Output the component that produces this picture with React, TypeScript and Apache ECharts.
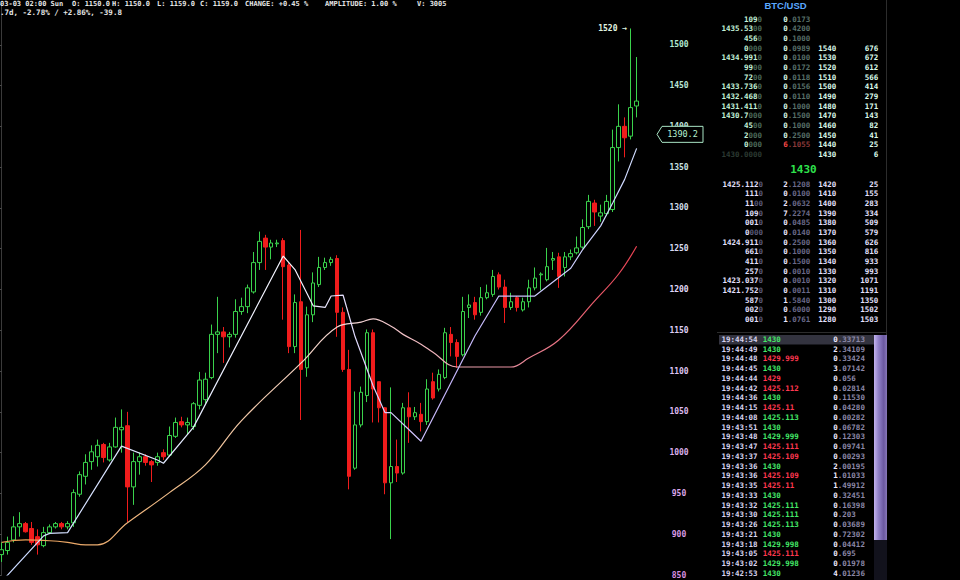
import React, { useEffect, useRef } from "react";
import * as echarts from "echarts";

// ---------- DATA ----------
// candles: [open, close, low, high]
const candles: number[][] = [
  [875, 881, 866, 890], [880, 890, 875, 897], [893, 909, 890, 922], [909, 913, 897, 927], [913, 903, 902, 915],
  [907, 890, 887, 915], [897, 887, 875, 906], [886, 902, 884, 909], [902, 909, 900, 912], [909, 913, 907, 915],
  [913, 909, 906, 915], [909, 913, 906, 916], [914, 951, 909, 955], [949, 973, 946, 977], [971, 988, 961, 998],
  [989, 1001, 979, 1009], [995, 1009, 983, 1016], [1010, 994, 988, 1012], [991, 1007, 989, 1012], [1007, 1031, 1006, 1043],
  [1028, 1031, 1000, 1053], [1033, 958, 915, 1050], [958, 989, 936, 1000], [989, 995, 973, 1000], [995, 988, 984, 998],
  [989, 985, 964, 991], [988, 995, 984, 1000], [1000, 995, 991, 1004], [997, 1021, 995, 1032], [1020, 1037, 1018, 1043],
  [1038, 1034, 1031, 1044], [1034, 1037, 1022, 1043], [1032, 1060, 1028, 1062], [1058, 1089, 1053, 1099], [1065, 1090, 1060, 1098],
  [1092, 1145, 1090, 1157], [1145, 1148, 1122, 1191], [1148, 1142, 1110, 1154], [1142, 1145, 1129, 1148], [1145, 1173, 1141, 1188],
  [1173, 1179, 1169, 1190], [1179, 1202, 1171, 1206], [1197, 1233, 1195, 1246], [1233, 1259, 1224, 1271], [1263, 1252, 1224, 1267],
  [1252, 1257, 1237, 1261], [1256, 1257, 1252, 1261], [1260, 1228, 1163, 1263], [1230, 1130, 1122, 1233], [1130, 1184, 1122, 1194],
  [1185, 1102, 1040, 1273], [1104, 1169, 1093, 1179], [1169, 1208, 1160, 1221], [1206, 1227, 1203, 1240], [1227, 1233, 1224, 1239],
  [1233, 1237, 1229, 1240], [1238, 1172, 1142, 1242], [1172, 1102, 1099, 1178], [1102, 971, 955, 1126], [981, 1034, 979, 1075],
  [1034, 1074, 1031, 1081], [1070, 1147, 1062, 1151], [1147, 1078, 1037, 1151], [1087, 1055, 1037, 1087], [1055, 963, 949, 1056],
  [963, 983, 894, 1080], [983, 975, 964, 1016], [975, 1055, 973, 1061], [1055, 1044, 1012, 1074], [1044, 1049, 1040, 1056],
  [1047, 1038, 1026, 1061], [1038, 1078, 1034, 1090], [1087, 1067, 1065, 1098], [1078, 1096, 1075, 1102], [1092, 1147, 1090, 1153],
  [1145, 1135, 1118, 1154], [1135, 1118, 1104, 1139], [1120, 1173, 1118, 1191], [1178, 1181, 1165, 1194], [1184, 1169, 1163, 1191],
  [1172, 1190, 1168, 1203], [1190, 1196, 1188, 1206], [1194, 1216, 1191, 1224], [1218, 1203, 1200, 1221], [1203, 1178, 1159, 1212],
  [1178, 1185, 1175, 1196], [1190, 1178, 1173, 1192], [1175, 1185, 1173, 1190], [1185, 1202, 1178, 1212], [1202, 1214, 1199, 1227],
  [1218, 1219, 1199, 1221], [1212, 1228, 1210, 1251], [1236, 1238, 1224, 1246], [1240, 1216, 1202, 1245], [1227, 1240, 1216, 1246],
  [1240, 1244, 1236, 1249], [1245, 1251, 1243, 1265], [1252, 1276, 1250, 1286], [1277, 1308, 1274, 1316], [1306, 1295, 1278, 1310],
  [1290, 1294, 1283, 1304], [1293, 1308, 1290, 1316], [1298, 1374, 1295, 1396], [1374, 1400, 1357, 1427], [1400, 1386, 1362, 1411],
  [1388, 1423, 1384, 1520], [1425, 1431, 1411, 1485],
];

// moving averages: [candle index, value]
const fastMA: number[][] = [
  [0, 842], [7, 898], [8, 901], [11, 902], [20, 1008], [26, 991], [27, 987], [32, 1031], [47, 1241], [49, 1224],
  [52, 1180], [54, 1178], [55, 1192], [57, 1193], [59, 1142], [62, 1082], [64, 1049], [65, 1049], [68, 1028], [70, 1014],
  [79, 1143], [83, 1192], [89, 1192], [95, 1226], [97, 1249], [100, 1278], [102, 1306], [104, 1335], [106, 1373],
];
const slowMA: number[][] = [
  [0, 890], [4, 893], [8, 892], [11, 890], [14, 887], [16, 887], [21, 914], [28, 951], [34, 985], [40, 1039],
  [50, 1110], [56, 1154], [60, 1160], [62, 1164], [65, 1155], [67, 1145], [70, 1133], [72, 1123], [76, 1105], [80, 1105],
  [85, 1105], [88, 1116], [93, 1138], [99, 1186], [103, 1219], [106, 1253],
];

const currentPrice = 1390.2;
const yTicksMin = 850;
const yTicksMax = 1550;
const yTickStep = 50;

const headerLine1 = ["03-03 02:00 Sun", "O: 1150.0", "H: 1150.0", "L: 1159.0", "C: 1159.0", "CHANGE: +0.45 %", "AMPLITUDE: 1.00 %", "V: 3005"];
const headerLine2 = ".7d, -2.78% / +2.86%, -39.8";

const bookTitle = "BTC/USD";
const askPrices = ["1090", "1435.5300", "4560", "0000", "1434.9910", "9900", "7200", "1433.7360", "1432.4680", "1431.4110", "1430.7000", "4500", "2000", "0000", "1430.0000"];
const askAmounts = ["0.0173", "0.4200", "0.1000", "0.0989", "0.0100", "0.0172", "0.0118", "0.0156", "0.0110", "0.1000", "0.1500", "0.1000", "0.2500", "6.1055", ""];
const askLevels = ["", "", "", "1540", "1530", "1520", "1510", "1500", "1490", "1480", "1470", "1460", "1450", "1440", "1430"];
const askDepth = ["", "", "", "676", "672", "612", "566", "414", "279", "171", "143", "82", "41", "25", "6"];
const lastTradePrice = "1430";
const bidPrices = ["1425.1120", "1110", "1100", "1090", "0010", "0000", "1424.9110", "6610", "4110", "2570", "1423.0370", "1421.7520", "5870", "0020", "0010"];
const bidAmounts = ["2.1208", "0.0100", "2.0632", "7.2274", "0.0485", "0.0140", "0.2500", "0.1000", "0.1500", "0.0010", "0.0010", "0.0011", "1.5840", "0.6000", "1.0761"];
const bidLevels = ["1420", "1410", "1400", "1390", "1380", "1370", "1360", "1350", "1340", "1330", "1320", "1310", "1300", "1290", "1280"];
const bidDepth = ["25", "155", "283", "334", "509", "579", "626", "816", "933", "993", "1071", "1191", "1350", "1502", "1503"];

const tradeTimes = ["19:44:54", "19:44:49", "19:44:48", "19:44:45", "19:44:44", "19:44:42", "19:44:36", "19:44:15", "19:44:08", "19:43:51", "19:43:48", "19:43:47", "19:43:37", "19:43:36", "19:43:36", "19:43:35", "19:43:33", "19:43:32", "19:43:30", "19:43:26", "19:43:21", "19:43:18", "19:43:05", "19:43:02", "19:42:53"];
const tradePrices = ["1430", "1430", "1429.999", "1430", "1429", "1425.112", "1430", "1425.11", "1425.113", "1430", "1429.999", "1425.111", "1425.109", "1430", "1425.109", "1425.11", "1430", "1425.111", "1425.111", "1425.113", "1430", "1429.998", "1425.111", "1429.998", "1430"];
const tradeSides = ["buy", "buy", "sell", "buy", "sell", "sell", "buy", "sell", "buy", "buy", "buy", "sell", "sell", "buy", "sell", "sell", "buy", "buy", "buy", "buy", "buy", "buy", "sell", "buy", "buy"];
const tradeAmounts = ["0.33713", "2.34109", "0.33424", "3.07142", "0.056", "0.02814", "0.11530", "0.04280", "0.00282", "0.06782", "0.12303", "0.09741", "0.00293", "2.00195", "1.01033", "1.49912", "0.32451", "0.16398", "0.203", "0.03689", "0.72302", "0.04412", "0.695", "0.01978", "4.01236"];

// ---------- STYLE HELPERS ----------
const MONO = "'DejaVu Sans Mono', monospace";

function mix(a: number[], b: number[], u: number) {
  const c = a.map((v, i) => Math.round(v + (b[i] - v) * u));
  return `rgb(${c[0]},${c[1]},${c[2]})`;
}
function axisLabelColor(val: any) {
  const v = Number(val);
  const t = Math.max(0, Math.min(1, (v - 850) / 650));
  const lo = [216, 144, 226], mid = [224, 216, 248], hi = [176, 232, 208];
  const split = (1200 - 850) / 650;
  return t < split ? mix(lo, mid, t / split) : mix(mid, hi, (t - split) / (1 - split));
}

function splitTrailingZeros(s: string): [string, string] {
  let i = s.length;
  while (i > 1 && s[i - 1] === "0") i--;
  return [s.slice(0, i), s.slice(i)];
}
function splitFirst(s: string): [string, string] {
  return [s.slice(0, 1), s.slice(1)];
}

type Part = { t: string; c: string };
function richText(x: number, y: number, parts: Part[], align: string = "left", size = 7.5, weight = "bold", family = MONO) {
  const rich: Record<string, any> = {};
  let text = "";
  parts.forEach((p, i) => {
    if (!p.t) return;
    rich["p" + i] = { fill: p.c, fontSize: size, fontFamily: family, fontWeight: weight };
    text += `{p${i}|${p.t}}`;
  });
  return {
    type: "text",
    x,
    y,
    silent: true,
    z: 10,
    style: {
      text,
      rich,
      fontSize: size,
      fontFamily: family,
      fontWeight: weight,
      textAlign: align,
      align,
      textVerticalAlign: "middle",
      verticalAlign: "middle",
    },
  };
}

function buildGraphics(tagY: number) {
  const g: any[] = [];

  // header (top-left)
  const hx = [0, 72, 112, 157, 200, 245, 325, 417];
  headerLine1.forEach((s, i) => g.push(richText(hx[i], 4, [{ t: s, c: "#e6e6e6" }], "left", 7)));
  g.push(richText(0, 12, [{ t: headerLine2, c: "#e6e6e6" }], "left", 7.5));

  // current price tag
  g.push({
    type: "polygon",
    z: 9,
    shape: { points: [[657, tagY], [662, tagY - 8], [703, tagY - 8], [703, tagY + 8], [662, tagY + 8]] },
    style: { fill: "#000", stroke: "#a8e4c4", lineWidth: 1 },
  });
  g.push(richText(682.5, tagY, [{ t: currentPrice.toFixed(1), c: "#b4f0d0" }], "center", 8.5, "normal"));

  // panel borders
  g.push({ type: "line", z: 5, shape: { x1: 886.5, y1: 0, x2: 886.5, y2: 580 }, style: { stroke: "#2c2c2c", lineWidth: 1 } });
  g.push({ type: "line", z: 5, shape: { x1: 717, y1: 332.5, x2: 886, y2: 332.5 }, style: { stroke: "#2c2c2c", lineWidth: 1 } });

  // order book title
  g.push(richText(785.5, 5.5, [{ t: bookTitle, c: "#5aa8ff" }], "center", 9.5, "bold", "'Liberation Sans', Arial, sans-serif"));

  // asks
  askPrices.forEach((p, k) => {
    const y = 19.3 + 9.65 * k;
    const faint = k === askPrices.length - 1;
    const [a, b] = splitTrailingZeros(p);
    g.push(richText(762, y, [{ t: a, c: faint ? "#2c3a32" : "#c4f2da" }, { t: b, c: faint ? "#2c3a32" : "#4c6a5a" }], "right"));
    if (askAmounts[k]) {
      const [c1, c2] = splitFirst(askAmounts[k]);
      const red = k === 13;
      g.push(richText(783.3, y, [{ t: c1, c: red ? "#ff4a4a" : "#d8f8e8" }, { t: c2, c: red ? "#8a3a3a" : "#58706a" }], "left"));
    }
    if (askLevels[k]) g.push(richText(818.3, y, [{ t: askLevels[k], c: "#dcfcec" }], "left"));
    if (askDepth[k]) g.push(richText(878.3, y, [{ t: askDepth[k], c: "#dcfcec" }], "right"));
  });

  g.push(richText(803.5, 169.5, [{ t: lastTradePrice, c: "#2ee24c" }], "center", 11));

  // bids
  bidPrices.forEach((p, k) => {
    const y = 184.3 + 9.65 * k;
    const [a, b] = splitTrailingZeros(p);
    g.push(richText(763, y, [{ t: a, c: "#e4e0ff" }, { t: b, c: "#5a5a7a" }], "right"));
    const [c1, c2] = splitFirst(bidAmounts[k]);
    g.push(richText(783.3, y, [{ t: c1, c: "#ece8ff" }, { t: c2, c: "#6a6a8a" }], "left"));
    g.push(richText(818.3, y, [{ t: bidLevels[k], c: "#e4e0ff" }], "left"));
    g.push(richText(878.3, y, [{ t: bidDepth[k], c: "#e4e0ff" }], "right"));
  });

  // trades: highlight row + scrollbar
  g.push({ type: "rect", z: 6, shape: { x: 719, y: 335, width: 155, height: 9.5 }, style: { fill: "#33333f" } });
  g.push({ type: "rect", z: 6, shape: { x: 874, y: 335, width: 13, height: 245 }, style: { fill: "#12121c" } });
  g.push({
    type: "rect",
    z: 7,
    shape: { x: 874, y: 335, width: 13, height: 205 },
    style: {
      fill: {
        type: "linear", x: 0, y: 0, x2: 1, y2: 0,
        colorStops: [
          { offset: 0, color: "#c4b4f0" },
          { offset: 0.35, color: "#9080c8" },
          { offset: 0.75, color: "#6a58a0" },
          { offset: 1, color: "#8878b8" },
        ],
      },
    },
  });

  tradeTimes.forEach((tm, k) => {
    const y = 339.3 + 9.75 * k;
    g.push(richText(721.5, y, [{ t: tm, c: "#d8d4f0" }], "left"));
    const buy = tradeSides[k] === "buy";
    g.push(richText(762.7, y, [{ t: tradePrices[k], c: buy ? "#44e868" : "#ff3850" }], "left"));
    const [a1, a2] = splitFirst(tradeAmounts[k]);
    g.push(richText(833.3, y, [{ t: a1, c: "#eeeaff" }, { t: a2, c: "#8c88a8" }], "left"));
  });

  return g;
}

// ---------- COMPONENT ----------
export default function App() {
  const ref = useRef<HTMLDivElement>(null);

  useEffect(() => {
    document.body.style.margin = "0";
    document.body.style.background = "#000";
    const chart = echarts.init(ref.current!, null, { renderer: "svg" });

    const candleData = candles.map((c, i) => [i, c[0], c[1], c[2], c[3]]);
    let maxIdx = 0;
    candles.forEach((c, i) => {
      if (c[3] > candles[maxIdx][3]) maxIdx = i;
    });

    const option: any = {
      animation: false,
      backgroundColor: "#000",
      grid: { left: 0, right: 244, top: 4, bottom: 5 },
      xAxis: { type: "value", min: -0.284, max: 119.25, show: false },
      yAxis: {
        type: "value",
        position: "right",
        min: yTicksMin,
        max: yTicksMax,
        interval: yTickStep,
        axisLine: { show: true, lineStyle: { color: "#3a3a3a" } },
        axisTick: { show: true, inside: true, length: 5, lineStyle: { color: "#4a4a4a" } },
        axisLabel: {
          inside: true,
          margin: 37,
          align: "center",
          fontSize: 8,
          fontFamily: MONO,
          fontWeight: "bold",
          color: (v: any) => axisLabelColor(v),
          formatter: (v: number) => (v >= yTicksMax ? "" : String(v)),
        },
        splitLine: { show: false },
      },
      series: [
        {
          type: "candlestick",
          data: candleData,
          barWidth: 4,
          itemStyle: {
            color: "#000",
            color0: "#f01c1c",
            borderColor: "#3ad24c",
            borderColor0: "#f01c1c",
            borderWidth: 1,
          },
          markPoint: {
            symbol: "circle",
            symbolSize: 1,
            itemStyle: { color: "rgba(0,0,0,0)" },
            label: {
              show: true,
              position: "left",
              distance: 3,
              color: "#e0f4e0",
              fontSize: 8,
              fontFamily: MONO,
              fontWeight: "bold",
              formatter: (p: any) => `${p.value} →`,
            },
            data: [{ coord: [maxIdx, candles[maxIdx][3]], value: candles[maxIdx][3] }],
          },
        },
        {
          type: "line",
          data: slowMA,
          smooth: 0.4,
          symbol: "none",
          lineStyle: {
            width: 1.2,
            color: {
              type: "linear", x: 0, y: 0, x2: 1, y2: 0,
              colorStops: [
                { offset: 0, color: "#e89a50" },
                { offset: 0.3, color: "#f0c090" },
                { offset: 0.55, color: "#f4d8d8" },
                { offset: 0.8, color: "#e890a0" },
                { offset: 1, color: "#e84050" },
              ],
            },
          },
          z: 3,
        },
        {
          type: "line",
          data: fastMA,
          symbol: "none",
          lineStyle: {
            width: 1.2,
            color: {
              type: "linear", x: 0, y: 0, x2: 1, y2: 0,
              colorStops: [
                { offset: 0, color: "#c8d8ff" },
                { offset: 0.45, color: "#f6f6ff" },
                { offset: 0.7, color: "#c4b4fa" },
                { offset: 1, color: "#d0dcff" },
              ],
            },
          },
          z: 4,
        },
      ],
    };

    chart.setOption(option);
    const tagY = chart.convertToPixel({ yAxisIndex: 0 }, currentPrice) as number;
    chart.setOption({ graphic: { elements: buildGraphics(tagY) } });

    return () => chart.dispose();
  }, []);

  return (
    <div
      ref={ref}
      style={{ position: "fixed", left: 0, top: 0, width: 960, height: 580, background: "#000" }}
    />
  );
}
